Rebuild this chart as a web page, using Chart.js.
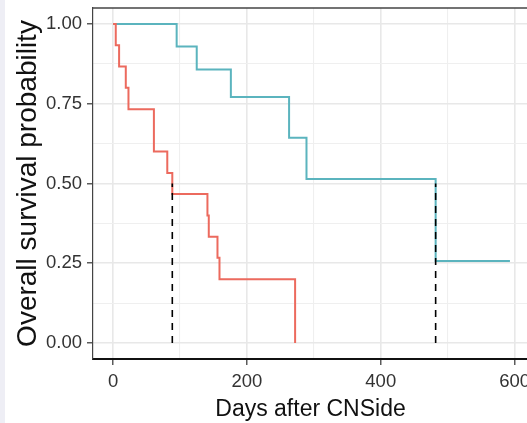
<html lang="en">
<head>
<meta charset="UTF-8">
<title>Overall survival</title>
<style>
    body {
        margin: 0;
        background: #ffffff;
        overflow: hidden;
        font-family: Arial, "Liberation Sans", sans-serif;
    }
    #strip {
        position: absolute;
        left: 0;
        top: 0;
        width: 5px;
        height: 423px;
        background: #eeeef5;
    }
    #wrap {
        position: absolute;
        left: 0;
        top: 0;
        width: 540px;
        height: 423px;
    }
</style>
</head>
<body>
<div id="strip"></div>
<div id="wrap"><canvas id="km" width="540" height="423"></canvas></div>

<script src="https://cdn.jsdelivr.net/npm/chart.js"></script>
<script>
    // Kaplan-Meier steps
    const redDays = [0, 4, 9, 19, 23, 61, 81, 88.5, 141, 143, 156, 159, 272];
    const redSurv = [1, 0.933, 0.867, 0.8, 0.733, 0.6, 0.533, 0.467, 0.4, 0.333, 0.267, 0.2, 0];

    const tealDays = [0, 95, 125, 176, 263, 289, 482, 593];
    const tealSurv = [1, 0.929, 0.857, 0.771, 0.643, 0.514, 0.257, 0.257];

    // median survival lines (0 up to 0.5)
    const medianDays = [88.5, 482];

    const xGrid = [0, 100, 200, 300, 400, 500, 600];
    const xTickLabels = ['0', '200', '400', '600'];
    const yGrid = [0, 0.125, 0.25, 0.375, 0.5, 0.625, 0.75, 0.875, 1];
    const yTickLabels = ['0.00', '0.25', '0.50', '0.75', '1.00'];

    const RED = '#ec6a5e';
    const TEAL = '#5bb4be';
    const FONT = 'Arial, "Liberation Sans", sans-serif';

    function pts(xs, ys) {
        return xs.map((x, i) => ({ x: x, y: ys[i] }));
    }

    const isMajorX = v => xTickLabels.includes(String(v));
    const isMajorY = v => yTickLabels.includes(v.toFixed(2));

    const datasets = medianDays.map(d => ({
        data: [{ x: d, y: 0 }, { x: d, y: 0.5 }],
        borderColor: '#000',
        borderWidth: 1.6,
        borderDash: [7, 6],
        pointRadius: 0,
        fill: false
    }));
    datasets.push({
        data: pts(redDays, redSurv),
        borderColor: RED,
        borderWidth: 2,
        stepped: 'before',
        pointRadius: 0,
        fill: false
    });
    datasets.push({
        data: pts(tealDays, tealSurv),
        borderColor: TEAL,
        borderWidth: 2,
        stepped: 'before',
        pointRadius: 0,
        fill: false
    });

    // top frame line
    const topFrame = {
        id: 'topFrame',
        afterDraw(chart) {
            const a = chart.chartArea;
            const c = chart.ctx;
            c.save();
            c.strokeStyle = '#444';
            c.lineWidth = 1.5;
            c.beginPath();
            c.moveTo(a.left, a.top);
            c.lineTo(a.right, a.top);
            c.stroke();
            c.restore();
        }
    };

    new Chart(document.getElementById('km'), {
        type: 'line',
        data: { datasets: datasets },
        plugins: [topFrame],
        options: {
            responsive: false,
            animation: false,
            layout: { padding: { top: 8, left: 0, right: 12, bottom: 0 } },
            plugins: { legend: { display: false }, tooltip: { enabled: false } },
            scales: {
                x: {
                    type: 'linear',
                    min: -30,
                    max: 620,
                    afterBuildTicks: s => { s.ticks = xGrid.map(v => ({ value: v })); },
                    afterFit: s => { s.height = 64; s.paddingLeft = 0; s.paddingRight = 0; },
                    grid: {
                        color: c => isMajorX(c.tick.value) ? '#e8e8e8' : '#efefef',
                        lineWidth: c => isMajorX(c.tick.value) ? 1.6 : 1.1,
                        tickLength: 6,
                        tickColor: c => isMajorX(c.tick.value) ? '#333' : 'rgba(0,0,0,0)',
                        tickWidth: 1.2
                    },
                    border: { color: '#111', width: 2 },
                    ticks: {
                        autoSkip: false,
                        maxRotation: 0,
                        padding: 6,
                        color: '#333',
                        font: { size: 18.5, family: FONT },
                        callback: v => isMajorX(v) ? String(v) : ''
                    },
                    title: {
                        display: true,
                        text: 'Days after CNSide',
                        color: '#111',
                        padding: { top: 0, bottom: 0 },
                        font: { size: 23, family: FONT }
                    }
                },
                y: {
                    type: 'linear',
                    min: -0.05,
                    max: 1.05,
                    afterBuildTicks: s => { s.ticks = yGrid.map(v => ({ value: v })); },
                    afterFit: s => { s.width = 93; s.paddingTop = 0; s.paddingBottom = 0; },
                    grid: {
                        color: c => isMajorY(c.tick.value) ? '#e8e8e8' : '#efefef',
                        lineWidth: c => isMajorY(c.tick.value) ? 1.6 : 1.1,
                        tickLength: 6,
                        tickColor: c => isMajorY(c.tick.value) ? '#333' : 'rgba(0,0,0,0)',
                        tickWidth: 1.2
                    },
                    border: { color: '#444', width: 1.2 },
                    ticks: {
                        autoSkip: false,
                        padding: 5,
                        color: '#333',
                        font: { size: 18.5, family: FONT },
                        callback: v => isMajorY(v) ? v.toFixed(2) : ''
                    },
                    title: {
                        display: true,
                        text: 'Overall survival probability',
                        color: '#111',
                        padding: { top: 11, bottom: 0 },
                        font: { size: 28, family: FONT }
                    }
                }
            }
        }
    });
</script>
</body>
</html>
